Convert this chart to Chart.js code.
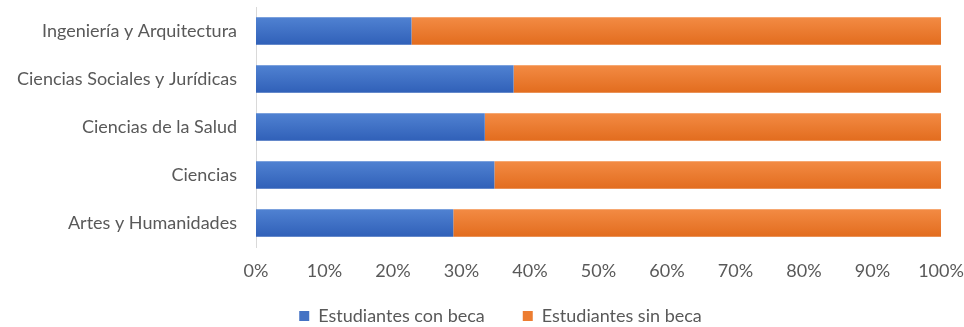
<!DOCTYPE html>
<html>
<head>
<meta charset="utf-8">
<script src="https://cdn.jsdelivr.net/npm/chart.js@4/dist/chart.umd.min.js"></script>
<style>
  html, body { margin: 0; padding: 0; background: #fff; }
  #wrap { width: 964px; height: 327px; position: relative; }
</style>
</head>
<body>
<div id="wrap"><canvas id="myChart"></canvas></div>
<script>
// ramas de conocimiento, de arriba a abajo
var ramas = [
    "Ingeniería y Arquitectura",
    "Ciencias Sociales y Jurídicas",
    "Ciencias de la Salud",
    "Ciencias",
    "Artes y Humanidades"
];
// % de estudiantes con beca
var conBeca = [22.7, 37.6, 33.4, 34.8, 28.8];
// % de estudiantes sin beca
var sinBeca = [77.3, 62.4, 66.6, 65.2, 71.2];

var gris = "#595959";
Chart.defaults.font.family = "Lato, 'Open Sans', sans-serif";
Chart.defaults.font.size = 18;
Chart.defaults.color = gris;

// degradado vertical suave en cada barra (claro arriba, oscuro abajo)
function degradado(claro, oscuro, plano){
    return function(c){
        if (c.type !== "data") return plano;
        var y = c.chart.scales.y;
        if (!y || y.height === 0) return plano;
        var centro = y.getPixelForValue(c.dataIndex);
        var g = c.chart.ctx.createLinearGradient(0, centro - 14, 0, centro + 14);
        g.addColorStop(0, claro);
        g.addColorStop(1, oscuro);
        return g;
    };
}

// mueve la leyenda a la derecha y hacia arriba
var moverLeyenda = {
    id: "moverLeyenda",
    afterLayout: function(chart){
        var l = chart.legend;
        if (l) {
            l.left += 30;
            l.right += 30;
            l.top -= 14;
        }
    }
};

var data = {
    labels: ramas,
    datasets: [
        {
            label: "Estudiantes con beca",
            data: conBeca,
            backgroundColor: degradado("#5082D2", "#3060B8", "#4472C4"),
            borderWidth: 0
        },
        {
            label: "Estudiantes sin beca",
            data: sinBeca,
            backgroundColor: degradado("#F38B44", "#E26C1E", "#ED7D31"),
            borderWidth: 0
        }
    ]
};

var options = {
    indexAxis: "y",
    responsive: true,
    maintainAspectRatio: false,
    animation: false,
    layout: {
        padding: { left: 0, right: 23, top: 7, bottom: 0 }
    },
    datasets: {
        bar: { categoryPercentage: 0.57, barPercentage: 1 }
    },
    scales: {
        x: {
            stacked: true,
            min: 0,
            max: 100,
            grid: { display: false, drawTicks: false },
            border: { display: false },
            ticks: {
                stepSize: 10,
                padding: 13,
                maxRotation: 0,
                callback: function(v){ return v + "%"; }
            },
            afterFit: function(scale){
                scale.height = 36;
                scale.paddingLeft = 0;
                scale.paddingRight = 0;
            }
        },
        y: {
            stacked: true,
            grid: { display: false, drawTicks: false },
            border: { display: true, color: "#D9D9D9", width: 1 },
            ticks: { padding: 19 },
            afterFit: function(scale){
                scale.width = 256;
                scale.paddingTop = 0;
                scale.paddingBottom = 0;
            }
        }
    },
    plugins: {
        legend: {
            display: true,
            position: "bottom",
            maxHeight: 44,
            labels: {
                boxWidth: 10,
                boxHeight: 10,
                padding: 38,
                generateLabels: function(chart){
                    // cuadros de color plano en la leyenda
                    var planos = ["#4472C4", "#ED7D31"];
                    return chart.data.datasets.map(function(ds, i){
                        return {
                            text: ds.label,
                            fillStyle: planos[i],
                            strokeStyle: planos[i],
                            lineWidth: 0,
                            hidden: !chart.isDatasetVisible(i),
                            datasetIndex: i,
                            fontColor: gris
                        };
                    });
                }
            }
        },
        tooltip: { enabled: false }
    }
};

var ctx = document.getElementById("myChart");
var chart = new Chart(ctx, {
    type: "bar",
    data: data,
    options: options,
    plugins: [moverLeyenda]
});
</script>
</body>
</html>
